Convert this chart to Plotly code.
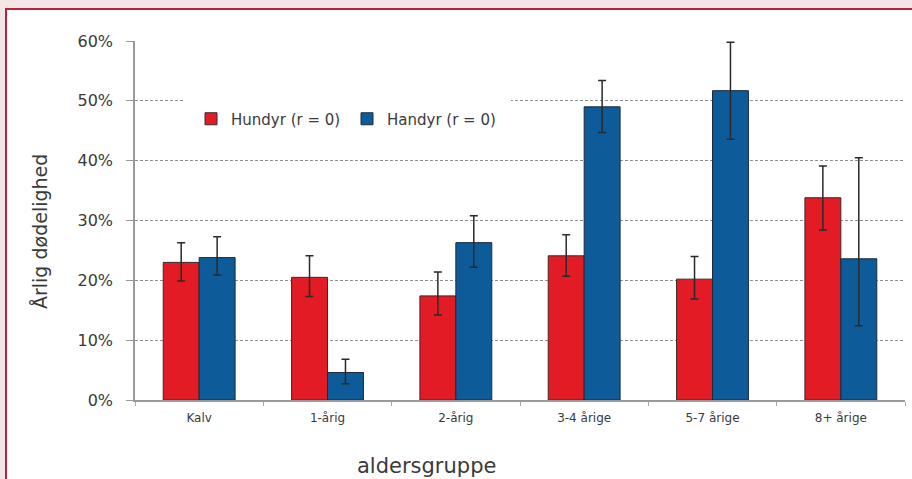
import plotly.graph_objects as go

categories = ["Kalv", "1-årig", "2-årig", "3-4 årige", "5-7 årige", "8+ årige"]
hundyr = [0.230, 0.205, 0.174, 0.241, 0.202, 0.338]
hundyr_hi = [0.263, 0.241, 0.214, 0.276, 0.240, 0.391]
hundyr_lo = [0.199, 0.173, 0.142, 0.207, 0.169, 0.284]
handyr = [0.238, 0.046, 0.263, 0.490, 0.517, 0.236]
handyr_hi = [0.273, 0.068, 0.308, 0.534, 0.598, 0.405]
handyr_lo = [0.209, 0.027, 0.222, 0.447, 0.436, 0.124]
y_ticks = [0, 0.1, 0.2, 0.3, 0.4, 0.5, 0.6]
y_tick_labels = ["0%", "10%", "20%", "30%", "40%", "50%", "60%"]

FONT = "DejaVu Sans"
TXT = "#3a3a3a"

def err(v, hi, lo):
    return dict(type="data", symmetric=False,
                array=[h - x for h, x in zip(hi, v)],
                arrayminus=[x - l for l, x in zip(lo, v)],
                color="#2a2a2a", thickness=1.5, width=4)

fig = go.Figure()
fig.add_trace(go.Bar(x=categories, y=hundyr, name="Hundyr (r = 0)",
                     marker=dict(color="#e21b25", line=dict(color="#3a2a2a", width=1)),
                     error_y=err(hundyr, hundyr_hi, hundyr_lo)))
fig.add_trace(go.Bar(x=categories, y=handyr, name="Handyr (r = 0)",
                     marker=dict(color="#0d5b98", line=dict(color="#1a2a3a", width=1)),
                     error_y=err(handyr, handyr_hi, handyr_lo)))

L, R, T, B = 135, 905, 41, 400
W = R - L
H = B - T

def px(x):
    return (x - L) / W

def py(y):
    return (B - y) / H

fig.update_layout(
    width=912, height=479,
    margin=dict(l=L, r=912 - R, t=T, b=479 - B),
    paper_bgcolor="#f4e6e6",
    plot_bgcolor="rgba(0,0,0,0)",
    barmode="group", bargap=0.44, bargroupgap=0,
    font=dict(family=FONT, color=TXT),
    showlegend=True,
    legend=dict(orientation="h", x=px(183), y=py(119), xanchor="left", yanchor="middle",
                bgcolor="white", bordercolor="white", borderwidth=8,
                font=dict(size=15, color=TXT),
                entrywidth=111, entrywidthmode="pixels", traceorder="normal"),
    shapes=[dict(type="rect", xref="paper", yref="paper",
                 x0=px(6), x1=px(930), y0=py(9), y1=py(495),
                 fillcolor="white", line=dict(color="#b3243a", width=2), layer="below")],
    annotations=[
        dict(text="Årlig dødelighed", xref="paper", yref="paper", x=px(40), y=py(232),
             showarrow=False, textangle=-90, font=dict(size=19, color=TXT),
             xanchor="center", yanchor="middle"),
        dict(text="aldersgruppe", xref="paper", yref="paper", x=px(426), y=py(466),
             showarrow=False, font=dict(size=21, color=TXT),
             xanchor="center", yanchor="middle"),
    ],
)

fig.update_yaxes(range=[0, 0.6], tickvals=y_ticks, ticktext=y_tick_labels,
                 showgrid=True, gridcolor="#8f8f8f", griddash="3px,2px", gridwidth=1,
                 showline=True, linecolor="#9a9a9a", linewidth=1.5,
                 ticks="outside", ticklen=7, tickcolor="#9a9a9a",
                 ticklabelstandoff=10,
                 tickfont=dict(size=16, color=TXT), zeroline=False)
fig.update_xaxes(showline=True, linecolor="#9a9a9a", linewidth=1.5,
                 ticks="outside", ticklen=4, tickcolor="#aaaaaa", tickson="boundaries",
                 ticklabelstandoff=6,
                 tickfont=dict(size=12, color=TXT), showgrid=False)

fig.write_html("out.html", config={"displayModeBar": False},
               post_script="document.body.style.margin='0px';")
